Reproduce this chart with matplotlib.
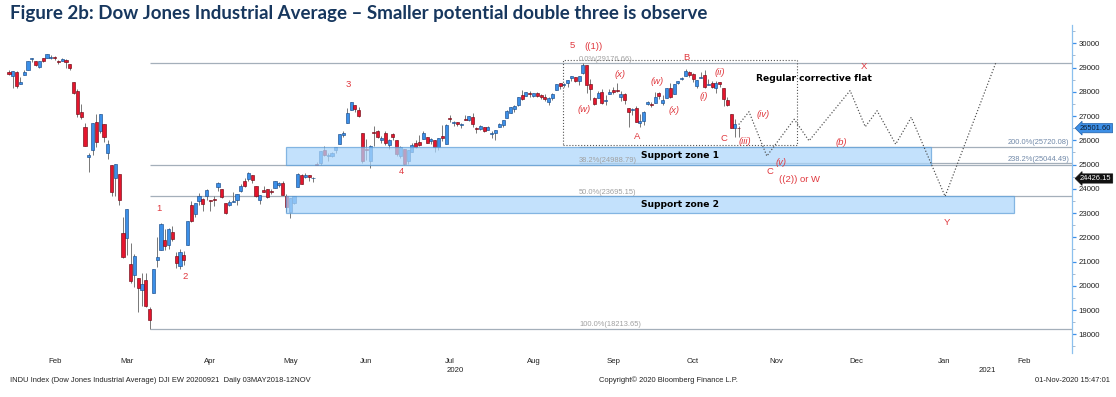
import numpy as np
import matplotlib.pyplot as plt
import matplotlib.transforms as mtransforms
from matplotlib.patches import Rectangle

# Dow Jones daily candles, 29 Jan 2020 - 30 Oct 2020 (one value per trading day)
opens = [28820, 28640, 28813, 28319, 28697, 28917, 29361, 29286, 29019, 29390,
         29406, 29401, 29440, 29280, 29279, 29300, 29167, 28402, 28038, 27186,
         26556, 25317, 25591, 26762, 26383, 26671, 25457, 24992, 24453, 24604,
         22184, 21974, 20917, 20460, 20327, 19832, 20260, 19029, 19722, 21051,
         21468, 21899, 21678, 22208, 21228, 20819, 21285, 21693, 23351, 22952,
         23494, 23600, 23699, 23552, 23598, 24090, 24000, 23404, 23320, 23470,
         23550, 23900, 24310, 24394, 24565, 24120, 23550, 23962, 24000, 23902,
         24039, 24170, 24258, 23706, 23049, 23430, 24055, 24570, 24467, 24550,
         24427, 25005, 25073, 25610, 25352, 25343, 25581, 25839, 26206, 26713,
         27232, 27447, 27251, 26282, 25660, 25148, 26333, 26392, 26016, 26283,
         25790, 26248, 26023, 25370, 25641, 25152, 25512, 25879, 25928, 26059,
         26147, 25975, 26005, 25745, 26184, 25853, 26906, 26694, 26757, 26637,
         26888, 26851, 26978, 26472, 26487, 26536, 26431, 26254, 26313, 26532,
         26617, 26936, 27137, 27308, 27475, 27878, 27809, 27951, 27839, 27945,
         27860, 27793, 27589, 27758, 28080, 28357, 28263, 28345, 28562, 28592,
         28439, 28763, 29095, 28341, 27740, 27742, 28010, 27637, 27895, 28057,
         28066, 27776, 27895, 27316, 27240, 27333, 26731, 26806, 27511, 27515,
         27537, 27940, 27537, 27758, 28168, 27913, 28367, 28512, 28669, 28809,
         28727, 28227, 28578, 28714, 28265, 28371, 28140, 28400, 28148, 27683,
         27066, 26500, 26520]
highs = [28892, 28879, 28871, 28630, 28904, 29291, 29408, 29286, 29277, 29415,
         29568, 29500, 29459, 29325, 29408, 29370, 29167, 28403, 28127, 27516,
         26704, 25494, 26706, 27084, 27102, 26671, 25994, 24992, 25020, 24604,
         22837, 23186, 21769, 21315, 20327, 20531, 20531, 19122, 20704, 22019,
         22595, 22327, 22378, 22480, 21409, 21500, 21447, 22680, 23513, 23434,
         23847, 23610, 24004, 23552, 23704, 24265, 24000, 23404, 23551, 23888,
         23780, 24200, 24444, 24683, 24565, 24120, 23765, 24125, 24000, 24000,
         24332, 24276, 24340, 23778, 23631, 23700, 24641, 24627, 24637, 24550,
         24496, 25124, 25551, 25762, 25496, 25522, 25743, 26271, 26378, 27338,
         27580, 27447, 27355, 26282, 26044, 25824, 26610, 26444, 26182, 26400,
         26050, 26290, 26023, 25765, 25641, 25597, 25905, 26005, 26204, 26365,
         26147, 26075, 26005, 26080, 26629, 26664, 27028, 26794, 26757, 26694,
         27050, 27006, 27106, 26539, 26632, 26568, 26582, 26379, 26434, 26715,
         26828, 27236, 27387, 27457, 27791, 28075, 27998, 28045, 27959, 27991,
         27905, 27919, 27802, 27958, 28321, 28358, 28380, 28502, 28660, 28592,
         28659, 29199, 29101, 28514, 27779, 28032, 28121, 27862, 28131, 28198,
         28369, 28027, 27964, 27316, 27327, 27419, 27070, 27197, 27638, 27571,
         27988, 27997, 27855, 28162, 28354, 28326, 28448, 28614, 28958, 28851,
         28772, 28499, 28799, 28898, 28542, 28457, 28437, 28406, 28148, 27800,
         27066, 26869, 26574]
lows = [28680, 28170, 28169, 28319, 28697, 28917, 29220, 29056, 28995, 29210,
        29406, 29346, 29307, 29160, 29279, 28991, 28887, 27925, 26980, 26880,
        25756, 24681, 25391, 25706, 26286, 25943, 25226, 23707, 23690, 23328,
        21154, 21285, 20116, 19939, 18917, 19178, 19114, 18213, 19722, 20788,
        21469, 21469, 21523, 21843, 20735, 20675, 20863, 21693, 22613, 22839,
        23353, 23075, 23540, 23068, 23302, 23898, 23630, 22942, 23300, 23443,
        23346, 23868, 24056, 24319, 24230, 23645, 23361, 23857, 23624, 23800,
        24039, 24095, 23763, 23028, 22790, 23360, 24055, 24179, 24452, 24336,
        24284, 24993, 24972, 25362, 25165, 25310, 25492, 25839, 26143, 26713,
        27232, 27166, 26967, 25082, 25173, 24843, 25783, 26111, 25893, 25825,
        25645, 26024, 25357, 25268, 24969, 25010, 25512, 25689, 25778, 26050,
        25883, 25852, 25523, 25605, 25980, 25853, 26763, 26600, 26579, 26495,
        26821, 26795, 26560, 26288, 26446, 26359, 26408, 26096, 26026, 26529,
        26566, 26920, 27106, 27185, 27395, 27663, 27809, 27774, 27790, 27775,
        27713, 27640, 27440, 27681, 28080, 28128, 28186, 28217, 28465, 28389,
        28290, 28740, 27953, 27665, 27468, 27742, 27511, 27450, 27895, 27906,
        28003, 27612, 27490, 26537, 27040, 26753, 26538, 26637, 27438, 27392,
        27530, 27695, 27444, 27758, 27728, 27913, 28331, 28480, 28653, 28602,
        28402, 28144, 28578, 28139, 28265, 28176, 27942, 28188, 27412, 27402,
        26499, 26143, 26144]
closes = [28734, 28859, 28256, 28400, 28807, 29290, 29380, 29103, 29276, 29277,
          29551, 29424, 29398, 29232, 29348, 29220, 28992, 27961, 27081, 26957,
          25766, 25409, 26703, 25917, 27091, 26121, 25865, 23851, 25018, 23553,
          21200, 23186, 20189, 21237, 19899, 20087, 19174, 18592, 20704, 21201,
          22552, 21637, 22327, 21917, 20944, 21413, 21053, 22680, 22654, 23434,
          23719, 23390, 23950, 23505, 23538, 24242, 23650, 23019, 23475, 23516,
          23775, 24134, 24102, 24634, 24346, 23724, 23750, 23883, 23664, 23876,
          24331, 24222, 23765, 23248, 23625, 23685, 24597, 24207, 24576, 24474,
          24465, 24995, 25548, 25401, 25383, 25475, 25743, 26270, 26282, 27111,
          27572, 27272, 26990, 25128, 25606, 25763, 26290, 26120, 26080, 25871,
          26025, 26156, 25446, 25745, 25016, 25596, 25813, 25735, 25827, 26287,
          25890, 26067, 25706, 26075, 26086, 26643, 26870, 26735, 26672, 26681,
          26840, 27006, 26653, 26470, 26585, 26379, 26540, 26314, 26428, 26664,
          26828, 27202, 27387, 27433, 27791, 27687, 27977, 27897, 27931, 27845,
          27779, 27693, 27740, 27930, 28308, 28249, 28332, 28492, 28654, 28430,
          28646, 29100, 28293, 28133, 27501, 27940, 27535, 27666, 27993, 27996,
          28032, 27902, 27657, 27148, 27288, 26763, 26815, 27174, 27584, 27453,
          27782, 27817, 27683, 28149, 27773, 28303, 28426, 28587, 28838, 28680,
          28515, 28494, 28607, 28195, 28309, 28211, 28364, 28336, 27685, 27464,
          26520, 26660, 26502]

# x axis: months (first trading day of each month as bar number)
month_names = ['Feb', 'Mar', 'Apr', 'May', 'Jun', 'Jul', 'Aug', 'Sep', 'Oct',
               'Nov', 'Dec', 'Jan', 'Feb']
month_first_bar = [3, 22, 44, 65, 85, 107, 129, 150, 171, 193, 214, 237, 258]

# fibonacci retracement (Mar 23 low -> Sep 2 high)
fib_names = ['0.0%', '38.2%', '50.0%', '100.0%']
fib_levels = [29176.66, 24988.79, 23695.15, 18213.65]
ext_names = ['200.0%', '238.2%']
ext_levels = [25720.08, 25044.49]

# support zones (low, high)
zone_names = ['Support zone 1', 'Support zone 2']
zone_low = [24988.79, 23000]
zone_high = [25720.08, 23695.15]
zone_end_bar = [242.5, 264.5]

# elliott wave labels
wave_text = ['1', '2', '3', '4', '5', '((1))', '(w)', '(x)', 'A', '(w)', '(x)', 'B',
             '(i)', '(ii)', 'C', '(iii)', '(iv)', '(v)', 'C', '((2)) or W', '(b)', 'X', 'Y']
wave_bar = [39.4, 46.3, 89.2, 103.2, 148.2, 153.7, 151.3, 160.8, 165.3, 170.5, 175, 178.2,
            182.9, 187.1, 188.2, 193.7, 198.4, 203.2, 200.3, 207.9, 218.9, 225, 246.8]
wave_price = [23196, 20375, 28309, 24705, 29901, 29860, 27278, 28722, 26148, 28416, 27221,
              29406, 27827, 28788, 26082, 25942, 27085, 25085, 24697, 24404, 25918, 29064, 22602]

# projected path (double three)
path_bar = [192, 194.7, 199.4, 206.6, 210.5, 221.3, 225.3, 228.4, 233.3, 237.4, 246.3, 259.6]
path_price = [26650, 27180, 25350, 26870, 25980, 28050, 26560, 27220, 25840, 26950, 23690, 29180]

# "regular corrective flat" box
flat_bars = [145.8, 207.4]
flat_prices = [25807, 29300]

last_price = 26501.60
marker_price = 24426.15

small_font = 'Liberation Sans'
wave_red = '#e0383e'

fig = plt.figure(figsize=(11.16, 3.97), dpi=100)
ax = fig.add_axes([0, 0.1108, 0.9606, 0.8262])

o, h, l, c = map(np.array, (opens, highs, lows, closes))
bars = np.arange(len(c))
up = c >= o
body_lo = np.minimum(o, c)
body_h = np.maximum(np.abs(c - o), 25)

ax.vlines(bars, l, h, color='#777777', lw=0.7, zorder=2)
ax.bar(bars[up], body_h[up], bottom=body_lo[up], width=0.82, color='#3b8fe8',
       edgecolor='#1b4e8c', lw=0.45, zorder=3)
ax.bar(bars[~up], body_h[~up], bottom=body_lo[~up], width=0.82, color='#e5152d',
       edgecolor='#700c18', lw=0.45, zorder=3)

x_right = 279.7
start_bar = 37  # Mar 23 low
for name, lev in zip(fib_names, fib_levels):
    ax.hlines(lev, start_bar, x_right, color='#a4afba', lw=0.9, zorder=1)
    ax.annotate(f'{name}({lev:.2f})', (150, lev), xytext=(0, 0.5), textcoords='offset points',
                ha='left', va='bottom', fontsize=5.4, color='#a0a0a0', family=small_font, zorder=6)
for name, lev in zip(ext_names, ext_levels):
    ax.hlines(lev, 150, x_right, color='#a4afba', lw=0.9, zorder=1)
    ax.annotate(f'{name}({lev:.2f})', (279, lev), xytext=(0, 0.5), textcoords='offset points',
                ha='right', va='bottom', fontsize=5.4, color='#7088a8', family=small_font, zorder=6)

for name, lo, hi, end in zip(zone_names, zone_low, zone_high, zone_end_bar):
    ax.add_patch(Rectangle((72.9, lo), end - 72.9, hi - lo, facecolor='#acd6fb',
                           edgecolor='#5f9fd8', lw=0.9, alpha=0.72, zorder=4))
    ax.text(176.5, (lo + hi) / 2, name, ha='center', va='center', fontsize=6.6,
            fontweight='bold', color='black', zorder=6)

ax.add_patch(Rectangle((flat_bars[0], flat_prices[0]), flat_bars[1] - flat_bars[0],
                       flat_prices[1] - flat_prices[0], fill=False, ls=':', lw=0.8,
                       edgecolor='#555555', zorder=5))
ax.text(211.7, 28557, 'Regular corrective flat', ha='center', va='center', fontsize=6.6,
        fontweight='bold', color='black', zorder=6)

ax.plot(path_bar, path_price, ls=':', lw=0.85, color='#4a4a4a', zorder=5)

for txt, b, p in zip(wave_text, wave_bar, wave_price):
    italic = txt.startswith('(') and not txt.startswith('((')
    ax.text(b, p, txt, ha='center', va='center', fontsize=6.8, color=wave_red,
            style='italic' if italic else 'normal', family=small_font, zorder=6)

ax.set_xlim(-2.37, x_right)
ax.set_ylim(17229, 30755)

# axes styling
for side in ('left', 'top', 'bottom'):
    ax.spines[side].set_visible(False)
ax.spines['right'].set_color('#8cc0ee')
ax.spines['right'].set_linewidth(0.9)
ax.yaxis.tick_right()
ax.set_yticks(np.arange(18000, 30001, 1000))
ax.set_yticks(np.arange(17500, 30600, 1000), minor=True)
ax.tick_params(axis='y', which='major', length=3, width=0.9, color='#3b8fe8',
               labelsize=5.6, pad=1.5, labelcolor='#222222')
ax.tick_params(axis='y', which='minor', length=2, width=0.6, color='#9ab0c8')
for lab in ax.get_yticklabels():
    lab.set_family(small_font)

ax.set_xticks([m + 9 for m in month_first_bar])
ax.set_xticklabels(month_names, family=small_font)
ax.tick_params(axis='x', length=0, labelsize=5.6, pad=3.5, labelcolor='#222222')

trans_yr = mtransforms.blended_transform_factory(ax.transData, fig.transFigure)
ax.text(117.4, 1 - 370 / 397, '2020', transform=trans_yr, ha='center', va='center',
        fontsize=5.6, family=small_font, color='#222222')
ax.text(257.4, 1 - 370 / 397, '2021', transform=trans_yr, ha='center', va='center',
        fontsize=5.6, family=small_font, color='#222222')

# price boxes on the axis
trans_px = mtransforms.blended_transform_factory(ax.transAxes, ax.transData)
ax.text(1.0075, last_price, f'{last_price:.2f}', transform=trans_px, ha='left', va='center',
        fontsize=5.4, family=small_font, color='#0b1a2e', clip_on=False, zorder=8,
        bbox=dict(boxstyle='larrow,pad=0.15', fc='#3d8fe6', ec='#1f5fa8', lw=0.5))
ax.text(1.0075, marker_price, f'{marker_price:.2f}', transform=trans_px, ha='left', va='center',
        fontsize=5.4, family=small_font, color='white', clip_on=False, zorder=8,
        bbox=dict(boxstyle='larrow,pad=0.15', fc='#111111', ec='#111111', lw=0.5))

# title and footer
title = fig.text(10 / 1116, 1 - 14 / 397,
                 'Figure 2b: Dow Jones Industrial Average \u2013 Smaller potential double three is observe',
                 ha='left', va='center', fontsize=12, fontweight='bold', color='#17375e',
                 family=['Lato', 'DejaVu Sans'])
fig.canvas.draw()
w = title.get_window_extent().width
title.set_fontsize(12 * 695 / w)

fy = 1 - 380 / 397
fig.text(10 / 1116, fy, 'INDU Index (Dow Jones Industrial Average) DJI EW 20200921  Daily 03MAY2018-12NOV',
         ha='left', va='center', fontsize=5.4, family=small_font, color='#222222')
fig.text(668 / 1116, fy, 'Copyright\u00a9 2020 Bloomberg Finance L.P.',
         ha='center', va='center', fontsize=5.4, family=small_font, color='#222222')
fig.text(1110 / 1116, fy, '01-Nov-2020 15:47:01',
         ha='right', va='center', fontsize=5.4, family=small_font, color='#222222')

fig.savefig('out.png', dpi=100)
